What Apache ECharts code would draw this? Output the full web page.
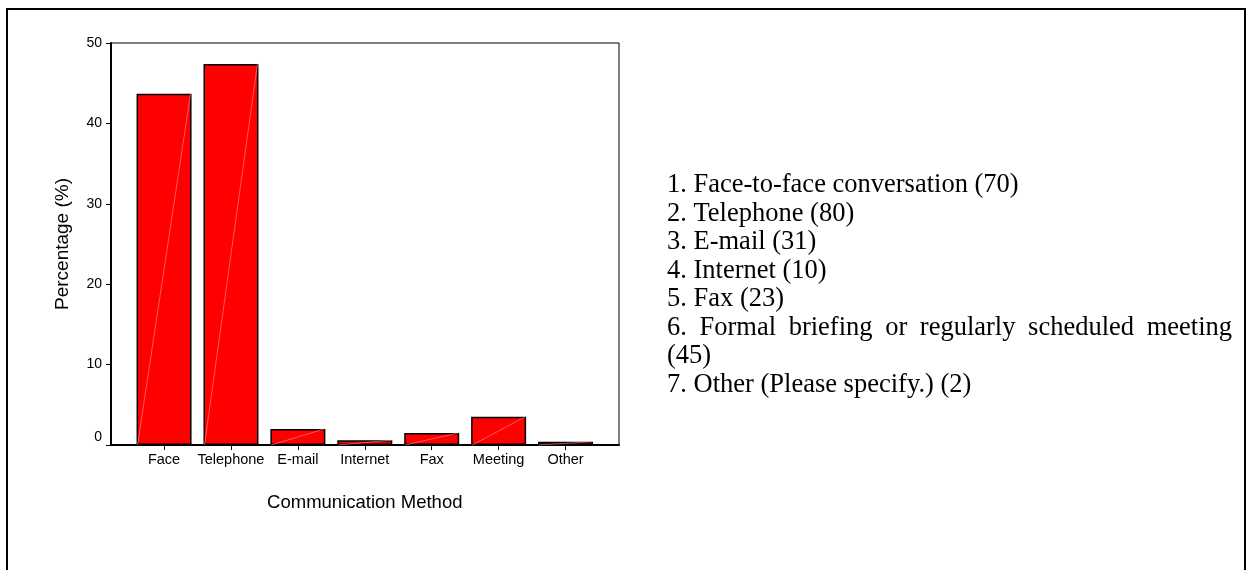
<!DOCTYPE html>
<html>
<head>
<meta charset="utf-8">
<script src="https://cdn.jsdelivr.net/npm/echarts@6/dist/echarts.min.js"></script>
<style>html,body{margin:0;padding:0;background:#fff;}#c{width:1248px;height:570px;}</style>
</head>
<body>
<div id="c"></div>
<script>
// ---- data ----
const categories = ['Face', 'Telephone', 'E-mail', 'Internet', 'Fax', 'Meeting', 'Other'];
const percentages = [43.7, 47.4, 2.0, 0.6, 1.5, 3.5, 0.4];
const yTicks = [0, 10, 20, 30, 40, 50];
const legendLines = [
  '1. Face-to-face conversation (70)',
  '2. Telephone (80)',
  '3. E-mail (31)',
  '4. Internet (10)',
  '5. Fax (23)',
  '6. Formal briefing or regularly scheduled meeting',
  '(45)',
  '7. Other (Please specify.) (2)'
];
const justifiedLine = 5;
const xTitle = 'Communication Method';
const yTitle = 'Percentage (%)';

// ---- layout ----
const box = { left: 111, top: 43, right: 619, bottom: 445 };
const inner = { left: 130.6, right: 599 };
const barW = 55;
const legendX = 667, legendTop = 185.5, legendStep = 28.5, legendRight = 1232;
const legendFont = 26.5;
const serif = '"Liberation Serif", "Times New Roman", serif';
const sans = '"Liberation Sans", Arial, sans-serif';

const chart = echarts.init(document.getElementById('c'), null, { renderer: 'canvas' });

// measure words for the justified line
const mctx = document.createElement('canvas').getContext('2d');
mctx.font = legendFont + 'px ' + serif;

const graphics = [{
  type: 'rect', silent: true,
  shape: { x: 7, y: 9, width: 1238, height: 620 },
  style: { fill: 'none', stroke: '#000', lineWidth: 2 }
}];
legendLines.forEach((line, i) => {
  const y = legendTop + i * legendStep;
  if (i === justifiedLine) {
    const words = line.split(' ');
    const widths = words.map(w => mctx.measureText(w).width);
    const total = widths.reduce((a, b) => a + b, 0);
    const gap = (legendRight - legendX - total) / (words.length - 1);
    let x = legendX;
    words.forEach((w, k) => {
      graphics.push({ type: 'text', silent: true, x: x, y: y,
        style: { text: w, font: legendFont + 'px ' + serif, fill: '#000', verticalAlign: 'middle' } });
      x += widths[k] + gap;
    });
  } else {
    graphics.push({ type: 'text', silent: true, x: legendX, y: y,
      style: { text: line, font: legendFont + 'px ' + serif, fill: '#000', verticalAlign: 'middle' } });
  }
});

const option = {
  animation: false,
  backgroundColor: '#fff',
  grid: [
    { left: box.left, top: box.top, width: box.right - box.left, height: box.bottom - box.top,
      show: true, borderColor: '#000', borderWidth: 1, backgroundColor: 'transparent', containLabel: false },
    { left: inner.left, top: box.top, width: inner.right - inner.left, height: box.bottom - box.top, containLabel: false }
  ],
  xAxis: [
    { gridIndex: 0, type: 'value', min: 0, max: 1, axisLine: { show: true, lineStyle: { color: '#000', width: 2 } },
      axisTick: { show: false }, axisLabel: { show: false }, splitLine: { show: false } },
    { gridIndex: 1, type: 'category', data: categories,
      axisLine: { show: false },
      axisTick: { show: true, alignWithLabel: true, length: 5, lineStyle: { color: '#000', width: 1 } },
      axisLabel: { color: '#000', fontFamily: sans, fontSize: 14.5, margin: 7, interval: 0 },
      name: xTitle, nameLocation: 'middle', nameGap: 48,
      nameTextStyle: { color: '#000', fontFamily: sans, fontSize: 18.5 } }
  ],
  yAxis: [
    { gridIndex: 0, type: 'value', min: 0, max: 50, interval: 10,
      axisLine: { show: true, lineStyle: { color: '#000', width: 2 } },
      axisTick: { show: true, length: 5, lineStyle: { color: '#000', width: 1 } },
      splitLine: { show: false },
      axisLabel: { color: '#000', fontFamily: sans, fontSize: 14, margin: 9,
        formatter: v => (yTicks.indexOf(v) === 0 ? '{z|' + v + '}' : String(v)),
        rich: { z: { fontFamily: sans, fontSize: 14, color: '#000', padding: [0, 0, 16, 0] } } },
      name: yTitle, nameLocation: 'middle', nameGap: 39, nameRotate: 90,
      nameTextStyle: { color: '#000', fontFamily: sans, fontSize: 19 } },
    { gridIndex: 1, type: 'value', min: 0, max: 50, show: false }
  ],
  series: [
    { type: 'bar', xAxisIndex: 1, yAxisIndex: 1, data: percentages, barWidth: barW,
      itemStyle: { color: '#ff0000', borderColor: '#000', borderWidth: 1.5 } },
    { type: 'custom', xAxisIndex: 1, yAxisIndex: 1, z: 3,
      data: percentages.map((v, i) => [i, v]),
      encode: { x: 0, y: 1 },
      renderItem: (params, api) => {
        const base = api.coord([api.value(0), 0]);
        const top = api.coord([api.value(0), api.value(1)]);
        return { type: 'line', silent: true,
          shape: { x1: base[0] - barW / 2 + 1, y1: base[1], x2: base[0] + barW / 2 - 1, y2: top[1] },
          style: { stroke: 'rgba(255,160,160,0.55)', lineWidth: 1 } };
      } }
  ],
  graphic: graphics
};
chart.setOption(option);
</script>
</body>
</html>
